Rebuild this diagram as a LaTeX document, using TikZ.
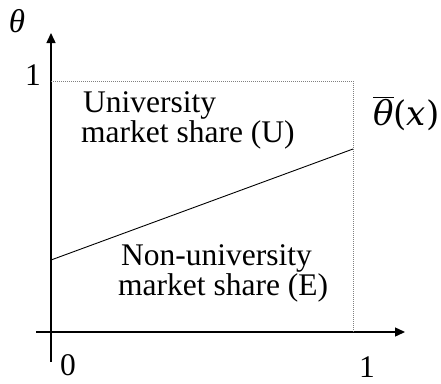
\documentclass[tikz,border=0pt]{standalone}
\usepackage{fontspec}
\setmainfont{Liberation Serif}
\newfontfamily\mathlike{DejaVu Serif}
\usetikzlibrary{arrows.meta}
\begin{document}
\begin{tikzpicture}[x=1pt,y=-1pt,
  axis/.style={line width=1.4pt,-{Triangle[length=10pt,width=9pt]}},
  guide/.style={dash pattern=on 1pt off 1pt,line width=1pt,gray},
  curve/.style={line width=0.9pt},
  lbl/.style={font=\fontsize{31.5}{28}\selectfont,inner sep=0pt}]
\useasboundingbox (0,0) rectangle (441,383);
\coordinate (o) at (51,332);
\coordinate (ytop) at (51,33);
\coordinate (ybot) at (51,362);
\coordinate (xleft) at (36,332);
\coordinate (xright) at (405,332);
\coordinate (c1) at (51,81);
\coordinate (c2) at (353,81);
\coordinate (c3) at (353,332);
\coordinate (la) at (51,260);
\coordinate (lb) at (353,149);
\draw[axis] (ybot) -- (ytop);
\draw[axis] (xleft) -- (xright);
\draw[guide] (c1) -- (c2) -- (c3);
\draw[curve] (la) -- (lb);
\node[lbl,anchor=base,font=\fontsize{33}{33}\selectfont] (theta) at (17,32) {\itshape θ};
\node[lbl,anchor=base] (one) at (33,85) {1};
\node[lbl,anchor=base] (zero) at (68,375) {0};
\node[lbl,anchor=base] (onex) at (367,377) {1};
\node[lbl,anchor=base west,font=\mathlike\fontsize{34}{34}\selectfont] (tbar) at (373,125) {$\overline{\mbox{\itshape θ}}$(\textit{x})};
\node[lbl,anchor=base west] (u1) at (83,112.5) {University};
\node[lbl,anchor=base west] (u2) at (81,142) {market share (U)};
\node[lbl,anchor=base west] (e1) at (121,265.5) {Non-university};
\node[lbl,anchor=base west] (e2) at (118,295) {market share (E)};
\end{tikzpicture}
\end{document}
